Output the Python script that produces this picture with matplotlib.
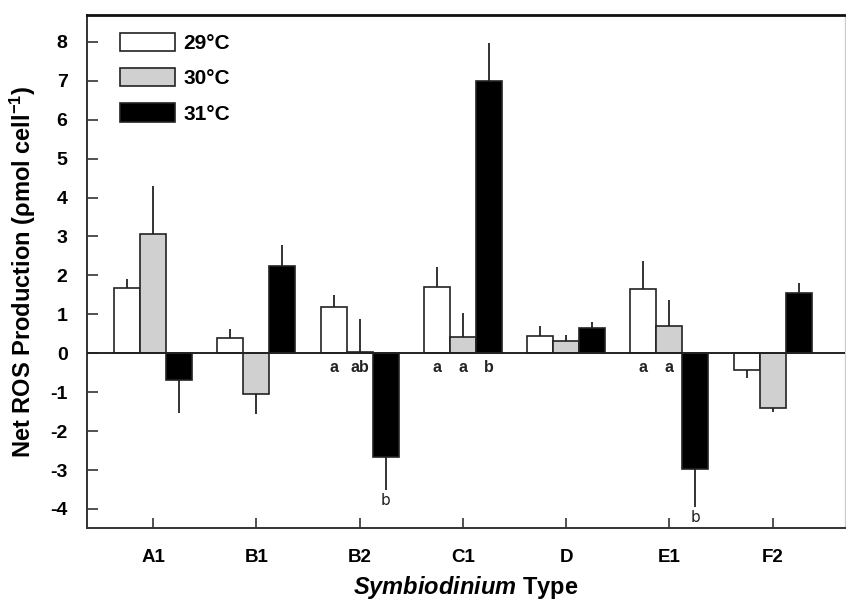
import matplotlib
matplotlib.use("Agg")
import matplotlib.pyplot as plt
import numpy as np

plt.rcParams['font.family'] = ['Liberation Sans', 'DejaVu Sans']
plt.rcParams['mathtext.fontset'] = 'custom'
plt.rcParams['mathtext.rm'] = 'Liberation Sans'
plt.rcParams['mathtext.bf'] = 'Liberation Sans:bold'
plt.rcParams['mathtext.it'] = 'Liberation Sans:italic:bold'
plt.rcParams['axes.unicode_minus'] = False

categories = ["A1", "B1", "B2", "C1", "D", "E1", "F2"]
series = ["29°C", "30°C", "31°C"]
vals_29 = [1.67, 0.385, 1.20, 1.70, 0.45, 1.64, -0.43]
vals_30 = [3.06, -1.05, 0.04, 0.41, 0.32, 0.70, -1.40]
vals_31 = [-0.69, 2.24, -2.66, 6.99, 0.66, -2.97, 1.56]
err_29 = [0.23, 0.235, 0.30, 0.52, 0.25, 0.74, 0.21]
err_30 = [1.24, 0.52, 0.84, 0.62, 0.15, 0.67, 0.10]
err_31 = [0.84, 0.54, 0.86, 0.97, 0.14, 0.99, 0.24]
# significance letters: (category index, series index, letter)
letters = [(2, 0, "a"), (2, 1, "ab"), (2, 2, "b"),
           (3, 0, "a"), (3, 1, "a"), (3, 2, "b"),
           (5, 0, "a"), (5, 1, "a"), (5, 2, "b")]

colors = ["white", "#d0d0d0", "black"]
values = [vals_29, vals_30, vals_31]
errors = [err_29, err_30, err_31]

fig = plt.figure(figsize=(8.46, 6.05), dpi=100)
ax = fig.add_axes([87/846, 1-528/605, (845-87)/846, (528-15)/605])

x = np.arange(len(categories))
w = 0.252
handles = []
for i, (v, e, c) in enumerate(zip(values, errors, colors)):
    v = np.array(v); e = np.array(e)
    pos = x + (i - 1) * w
    b = ax.bar(pos, v, width=w, color=c, edgecolor="#222222", linewidth=1.2,
               label=series[i], zorder=2)
    handles.append(b)
    lower = np.where(v < 0, e, 0)
    upper = np.where(v >= 0, e, 0)
    ax.errorbar(pos, v, yerr=[lower, upper], fmt="none", ecolor="#333333",
                elinewidth=1.4, capsize=0, zorder=1)

for ci, si, txt in letters:
    v = values[si][ci]
    e = errors[si][ci]
    px = x[ci] + (si - 1) * w
    if v >= 0:
        ax.text(px, -0.36, txt, ha="center", va="center", fontsize=11.5,
                fontweight="bold", color="#222222")
    else:
        ax.text(px, v - e - 0.27, txt, ha="center", va="center", fontsize=11,
                color="#222222", family="DejaVu Sans")

ax.axhline(0, color="#222222", linewidth=1.4, zorder=3)

ax.set_xlim(-0.64, 6.70)
ax.set_ylim(-4.49, 8.69)
ax.set_yticks(range(-4, 9))
ax.set_xticks(x)
ax.set_xticklabels(categories)
ax.tick_params(axis="y", direction="in", length=8, width=1.2, pad=14,
               labelsize=14, color="#333333")
ax.tick_params(axis="x", direction="in", length=7, width=1.2, pad=15,
               labelsize=13.5, color="#333333")
for lab in ax.get_xticklabels() + ax.get_yticklabels():
    lab.set_fontweight("bold")

for s in ["left", "bottom"]:
    ax.spines[s].set_color("#333333")
    ax.spines[s].set_linewidth(1.4)
ax.spines["top"].set_color("#111111")
ax.spines["top"].set_linewidth(2.0)
ax.spines["right"].set_color("#cccccc")
ax.spines["right"].set_linewidth(1.0)

ax.set_ylabel(r"Net ROS Production (ρmol cell$^{\mathbf{-1}}$)",
              fontsize=17, fontweight="bold", labelpad=9)
ax.set_xlabel(r"$\mathit{Symbiodinium}$ Type", fontsize=17,
              fontweight="bold", labelpad=6)

leg = ax.legend(handles=handles, loc="upper left",
                bbox_to_anchor=(0.032, 0.981), frameon=False,
                fontsize=15, handlelength=2.65, handleheight=0.96,
                labelspacing=0.72, handletextpad=0.4, borderaxespad=0)
for t in leg.get_texts():
    t.set_fontweight("bold")

fig.savefig("out.png", dpi=100)
